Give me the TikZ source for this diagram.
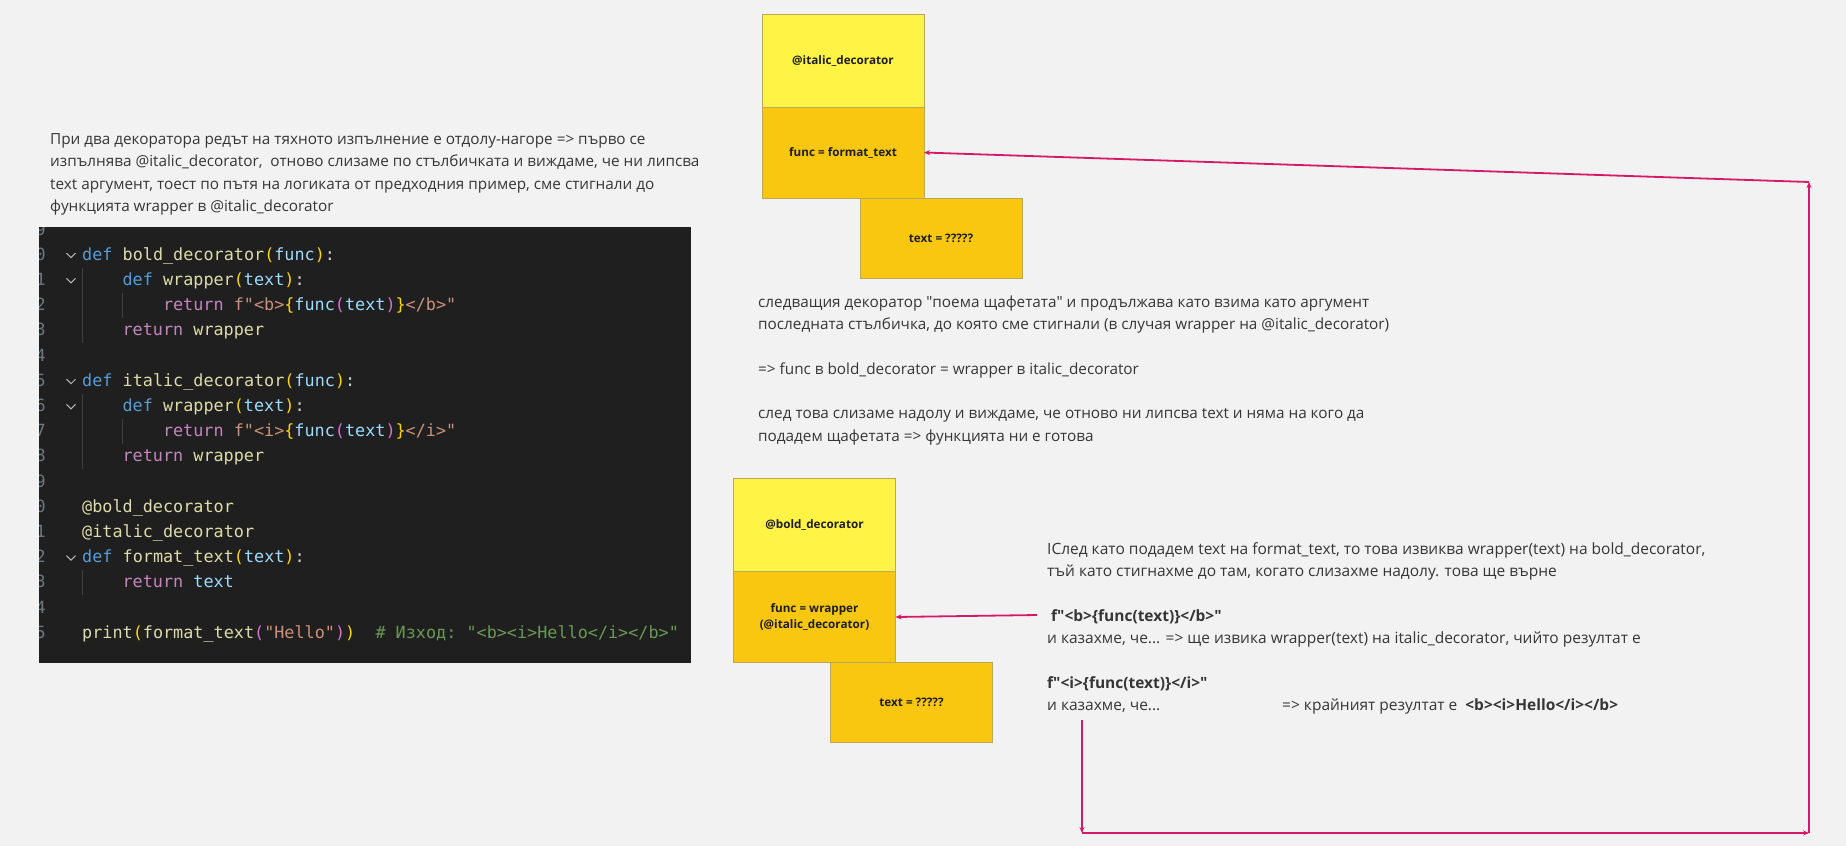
\documentclass[tikz,border=0pt]{standalone}
\usepackage{fontspec}
\setmainfont{Open Sans}
\setmonofont{DejaVu Sans Mono}
\usetikzlibrary{arrows.meta,positioning}

\definecolor{pagebg}{HTML}{F2F2F2}
\definecolor{bodytxt}{HTML}{363636}
\definecolor{boxtxt}{HTML}{1E1E1E}
\definecolor{decofill}{HTML}{FFF445}
\definecolor{funcfill}{HTML}{FAC710}
\definecolor{stackline}{HTML}{BBA75A}
\definecolor{relaycol}{RGB}{214,24,104}
\definecolor{codebg}{HTML}{1F1F1F}
\definecolor{pyplain}{HTML}{D4D4D4}
\definecolor{pykw}{HTML}{569CD6}
\definecolor{pyfunc}{HTML}{DCDCAA}
\definecolor{pyparam}{HTML}{9CDCFE}
\definecolor{pybrone}{HTML}{FFD700}
\definecolor{pybrtwo}{HTML}{DA70D6}
\definecolor{pyctrl}{HTML}{C586C0}
\definecolor{pystring}{HTML}{CE9178}
\definecolor{pycomment}{HTML}{6A9955}
\definecolor{pylineno}{HTML}{6E7681}
\definecolor{pyguide}{HTML}{404040}

\newcommand\pydef[1]{\textcolor{pykw}{#1}}
\newcommand\pyfn[1]{\textcolor{pyfunc}{#1}}
\newcommand\pyvar[1]{\textcolor{pyparam}{#1}}
\newcommand\pyba[1]{\textcolor{pybrone}{#1}}
\newcommand\pybb[1]{\textcolor{pybrtwo}{#1}}
\newcommand\pyret[1]{\textcolor{pyctrl}{#1}}
\newcommand\pystr[1]{\textcolor{pystring}{#1}}
\newcommand\pycom[1]{\textcolor{pycomment}{#1}}
\newcommand\qq{\textquotedbl}

\tikzset{
  note/.style={anchor=north west, align=left, inner sep=0pt, text=bodytxt,
    font=\fontsize{15.3}{22.3}\selectfont},
  stackbox/.style={draw=stackline, line width=1pt, outer sep=0pt, inner sep=2pt,
    minimum width=162pt, align=center, text=boxtxt,
    font=\bfseries\fontsize{11.7}{16}\selectfont},
  decobox/.style={stackbox, fill=decofill, minimum height=93pt},
  funcbox/.style={stackbox, fill=funcfill, minimum height=91pt},
  argbox/.style={stackbox, fill=funcfill, minimum height=80pt},
  relay/.style={draw=relaycol, line width=1.8pt, -{Stealth[length=6pt,width=5pt]}},
  code/.style={anchor=base west, inner sep=0pt, text=pyplain,
    font=\ttfamily\fontsize{16.8}{20}\selectfont},
  lineno/.style={anchor=base east, inner sep=0pt, text=pylineno,
    font=\ttfamily\fontsize{16.8}{20}\selectfont},
}

\begin{document}
\begin{tikzpicture}[x=1pt,y=-1pt]
\useasboundingbox[fill=pagebg] (0,0) rectangle (1846,846);

% explanation, top left
\node[note] (intro) at (50,133.5) {При два декоратора редът на тяхното изпълнение е отдолу-нагоре => първо се\\
изпълнява @italic\_decorator,\ \ отново слизаме по стълбичката и виждаме, че ни липсва\\
text аргумент, тоест по пътя на логиката от предходния пример, сме стигнали до\\
функцията wrapper в @italic\_decorator};

% code screenshot
\fill[codebg] (39,227) rectangle (691,663);
\begin{scope}
\clip (39,227) rectangle (691,663);
\foreach \k in {0,...,16}{
  \pgfmathtruncatemacro\num{29+\k}
  \node[lineno] at (46,235+25.2*\k) {\num};
}
\foreach \k in {1,2,6,7,13}
  \draw[pyplain!85!black, line width=1pt] (66.5,228+25.2*\k) -- (71,232.5+25.2*\k) -- (75.5,228+25.2*\k);
\foreach \a/\b/\x in {2/4/82, 3/3/122.4, 7/9/82, 8/8/122.4, 14/14/82}
  \draw[pyguide, line width=1pt] (\x,217.4+25.2*\a) -- (\x,242.6+25.2*\b);
\end{scope}
\node[code] (c30) at (82,260.2) {\pydef{def} \pyfn{bold\_decorator}\pyba{(}\pyvar{func}\pyba{)}:};
\node[code] (c31) at (122.4,285.4) {\pydef{def} \pyfn{wrapper}\pyba{(}\pyvar{text}\pyba{)}:};
\node[code] (c32) at (162.8,310.6) {\pyret{return} \pystr{f"<b>}\pyba{\{}\pyvar{func}\pybb{(}\pyvar{text}\pybb{)}\pyba{\}}\pystr{</b>"}};
\node[code] (c33) at (122.4,335.8) {\pyret{return} \pyfn{wrapper}};
\node[code] (c35) at (82,386.2) {\pydef{def} \pyfn{italic\_decorator}\pyba{(}\pyvar{func}\pyba{)}:};
\node[code] (c36) at (122.4,411.4) {\pydef{def} \pyfn{wrapper}\pyba{(}\pyvar{text}\pyba{)}:};
\node[code] (c37) at (162.8,436.6) {\pyret{return} \pystr{f"<i>}\pyba{\{}\pyvar{func}\pybb{(}\pyvar{text}\pybb{)}\pyba{\}}\pystr{</i>"}};
\node[code] (c38) at (122.4,461.8) {\pyret{return} \pyfn{wrapper}};
\node[code] (c40) at (82,512.2) {\pyfn{@bold\_decorator}};
\node[code] (c41) at (82,537.4) {\pyfn{@italic\_decorator}};
\node[code] (c42) at (82,562.6) {\pydef{def} \pyfn{format\_text}\pyba{(}\pyvar{text}\pyba{)}:};
\node[code] (c43) at (122.4,587.8) {\pyret{return} \pyvar{text}};
\node[code] (c45) at (82,638.2) {\pyfn{print}\pyba{(}\pyfn{format\_text}\pybb{(}\pystr{"Hello"}\pybb{)}\pyba{)}~~\pycom{\# Изход: "<b><i>Hello</i></b>"}};

% first stack
\node[decobox] (italicdeco) at (843,60.5) {@italic\_decorator};
\node[funcbox, below=0pt of italicdeco] (italicfunc) {func = format\_text};
\node[argbox, anchor=north west] (italicarg) at ([xshift=98pt]italicfunc.south west) {text = ?????};

\node[note] (relay) at (758,295.5) {следващия декоратор \qq поема щафетата\qq{} и продължава като взима като аргумент\\
последната стълбичка, до която сме стигнали (в случая wrapper на @italic\_decorator)\\[22.3pt]
=> func в bold\_decorator = wrapper в italic\_decorator\\[22.3pt]
след това слизаме надолу и виждаме, че отново ни липсва text и няма на кого да\\
подадем щафетата => функцията ни е готова};

% second stack
\node[decobox] (bolddeco) at (814.5,525) {@bold\_decorator};
\node[funcbox, below=0pt of bolddeco] (boldfunc) {func = wrapper\\(@italic\_decorator)};
\node[argbox, anchor=north west] (boldarg) at ([xshift=97pt]boldfunc.south west) {text = ?????};

\node[note, font=\fontsize{15.5}{22.3}\selectfont] (result) at (1047,542.5) {IСлед като подадем text на format\_text, то това извиква wrapper(text) на bold\_decorator,\\
тъй като стигнахме до там, когато слизахме надолу. това ще върне\\[22.3pt]
\textbf{\ f\qq<b>\{func(text)\}</b>\qq}\\
и казахме, че... => ще извика wrapper(text) на italic\_decorator, чийто резултат е\\[22.3pt]
\textbf{f\qq<i>\{func(text)\}</i>\qq}\\
\makebox[235pt][l]{и казахме, че...}=> крайният резултат е\ \ \textbf{<b><i>Hello</i></b>}};

% connectors
\coordinate (tailstart) at (1082,720);
\coordinate (cornerbl) at (1082,833);
\coordinate (cornerbr) at (1809,833);
\coordinate (cornertr) at (1809,182);
\coordinate (lowtail) at (1037,615);
\draw[relay] (tailstart) -- (cornerbl);
\draw[relay] (cornerbl) -- (cornerbr);
\draw[relay] (cornerbr) -- (cornertr);
\draw[relay] (cornertr) -- (italicfunc.east);
\draw[relay] (lowtail) -- (boldfunc.east);
\end{tikzpicture}
\end{document}
